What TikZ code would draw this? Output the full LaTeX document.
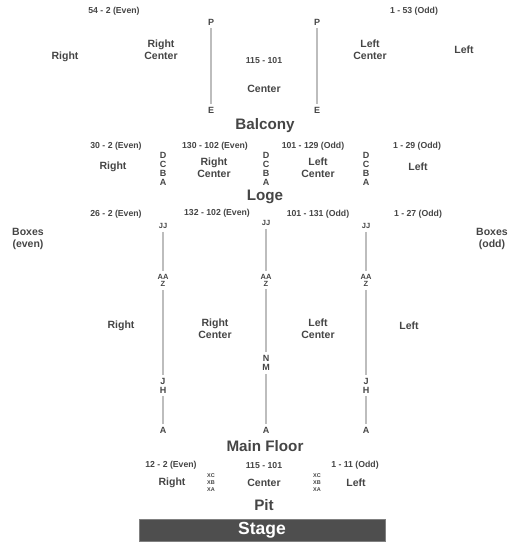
\documentclass[tikz,border=0pt]{standalone}
\usepackage{fontspec}
\setmainfont{Liberation Sans}
\usepackage{xcolor}
\usetikzlibrary{positioning}
\definecolor{sctext}{HTML}{454545}
\definecolor{scline}{HTML}{BDBDBD}
\definecolor{scstagefill}{HTML}{4E4E4E}
\tikzset{
  sclabel/.style={text=sctext, font=\bfseries\fontsize{10.5}{12}\selectfont, align=center, inner sep=0pt},
  scrange/.style={text=sctext, font=\bfseries\fontsize{8.7}{10}\selectfont, inner sep=0pt, yshift=-1.2pt},
  sctitle/.style={text=sctext, font=\bfseries\fontsize{15.2}{17}\selectfont, inner sep=0pt},
  scrow/.style={text=sctext, font=\bfseries\fontsize{9}{9}\selectfont, align=center, inner sep=0pt},
  scrowsmall/.style={text=sctext, font=\bfseries\fontsize{7.5}{7}\selectfont, align=center, inner sep=0pt},
  sctiny/.style={text=sctext, font=\bfseries\fontsize{5.5}{7}\selectfont, align=center, inner sep=0pt},
  scaisle/.style={draw=scline, line width=1.4pt, shorten <=3pt, shorten >=3pt},
  scstage/.style={draw=gray, fill=scstagefill, text=white, font=\bfseries\fontsize{17.5}{18}\selectfont,
    minimum width=246pt, minimum height=22pt, inner sep=0pt, line width=0.8pt}
}

\begin{document}
\begin{tikzpicture}[x=1pt,y=-1pt]
  \useasboundingbox (0,0) rectangle (525,549);
  % Balcony
  \node[scrange] (balEven) at (114,10) {54 - 2 (Even)};
  \node[scrange] (balOdd) at (414,10) {1 - 53 (Odd)};
  \node[sclabel] (balR) at (65,57) {Right};
  \node[sclabel] (balRC) at (161,50) {Right\\Center};
  \node[scrange] (balCnum) at (264,59) {115 - 101};
  \node[sclabel] (balC) at (264,89) {Center};
  \node[sclabel] (balLC) at (370,50) {Left\\Center};
  \node[sclabel] (balL) at (464,50) {Left};
  \node[scrow] (balPl) at (211,22) {P};
  \node[scrow] (balEl) at (211,110) {E};
  \node[scrow] (balPr) at (317,22) {P};
  \node[scrow] (balEr) at (317,110) {E};
  \draw[scaisle] (balPl) -- (balEl);
  \draw[scaisle] (balPr) -- (balEr);
  \node[sctitle] (balcony) at (265,126) {Balcony};
  % Loge
  \node[scrange] (logR) at (116,145) {30 - 2 (Even)};
  \node[scrange] (logRC) at (215,145) {130 - 102 (Even)};
  \node[scrange] (logLC) at (313,145) {101 - 129 (Odd)};
  \node[scrange] (logL) at (417,145) {1 - 29 (Odd)};
  \node[sclabel] (logRt) at (113,167) {Right};
  \node[sclabel] (logRCt) at (214,168) {Right\\Center};
  \node[sclabel] (logLCt) at (318,168) {Left\\Center};
  \node[sclabel] (logLt) at (418,167) {Left};
  \foreach \x/\n in {163/a,266/b,366/c}
    \node[scrow] (logRows\n) at (\x,168.5) {D\\C\\B\\A};
  \node[sctitle] (loge) at (265,197) {Loge};
  % Main floor
  \node[scrange] (mfR) at (116,213) {26 - 2 (Even)};
  \node[scrange] (mfRC) at (217,212) {132 - 102 (Even)};
  \node[scrange] (mfLC) at (318,213) {101 - 131 (Odd)};
  \node[scrange] (mfL) at (418,213) {1 - 27 (Odd)};
  \node[sclabel] (boxEven) at (28,239) {Boxes\\(even)};
  \node[sclabel] (boxOdd) at (492,239) {Boxes\\(odd)};
  \node[sclabel] (mfRt) at (121,326) {Right};
  \node[sclabel] (mfRCt) at (215,329) {Right\\Center};
  \node[sclabel] (mfLCt) at (318,329) {Left\\Center};
  \node[sclabel] (mfLt) at (409,326) {Left};
  % right aisle
  \node[scrowsmall] (rJJ) at (163,226) {JJ};
  \node[scrowsmall] (rAAZ) at (163,280.5) {AA\\Z};
  \node[scrow] (rJH) at (163,385.5) {J\\H};
  \node[scrow] (rA) at (163,430) {A};
  \draw[scaisle] (rJJ) -- (rAAZ);
  \draw[scaisle] (rAAZ) -- (rJH);
  \draw[scaisle] (rJH) -- (rA);
  % center aisle
  \node[scrowsmall] (cJJ) at (266,223) {JJ};
  \node[scrowsmall] (cAAZ) at (266,280) {AA\\Z};
  \node[scrow] (cNM) at (266,363) {N\\M};
  \node[scrow] (cA) at (266,430) {A};
  \draw[scaisle] (cJJ) -- (cAAZ);
  \draw[scaisle] (cAAZ) -- (cNM);
  \draw[scaisle] (cNM) -- (cA);
  % left aisle
  \node[scrowsmall] (lJJ) at (366,226) {JJ};
  \node[scrowsmall] (lAAZ) at (366,280.5) {AA\\Z};
  \node[scrow] (lJH) at (366,385.5) {J\\H};
  \node[scrow] (lA) at (366,430) {A};
  \draw[scaisle] (lJJ) -- (lAAZ);
  \draw[scaisle] (lAAZ) -- (lJH);
  \draw[scaisle] (lJH) -- (lA);
  \node[sctitle] (mainFloor) at (265,446) {Main Floor};
  % Pit
  \node[scrange] (pitR) at (171,464) {12 - 2 (Even)};
  \node[scrange] (pitC) at (264,464) {115 - 101};
  \node[scrange] (pitL) at (355,464) {1 - 11 (Odd)};
  \node[sclabel] (pitRt) at (172,483) {Right};
  \node[sclabel] (pitCt) at (264,483) {Center};
  \node[sclabel] (pitLt) at (356,483) {Left};
  \node[sctiny] (pitXr) at (211,483) {XC\\XB\\XA};
  \node[sctiny] (pitXl) at (317,483) {XC\\XB\\XA};
  \node[sctitle] (pit) at (264,505) {Pit};
  \node[scstage] (stage) at (262,530) {Stage};
\end{tikzpicture}
\end{document}
